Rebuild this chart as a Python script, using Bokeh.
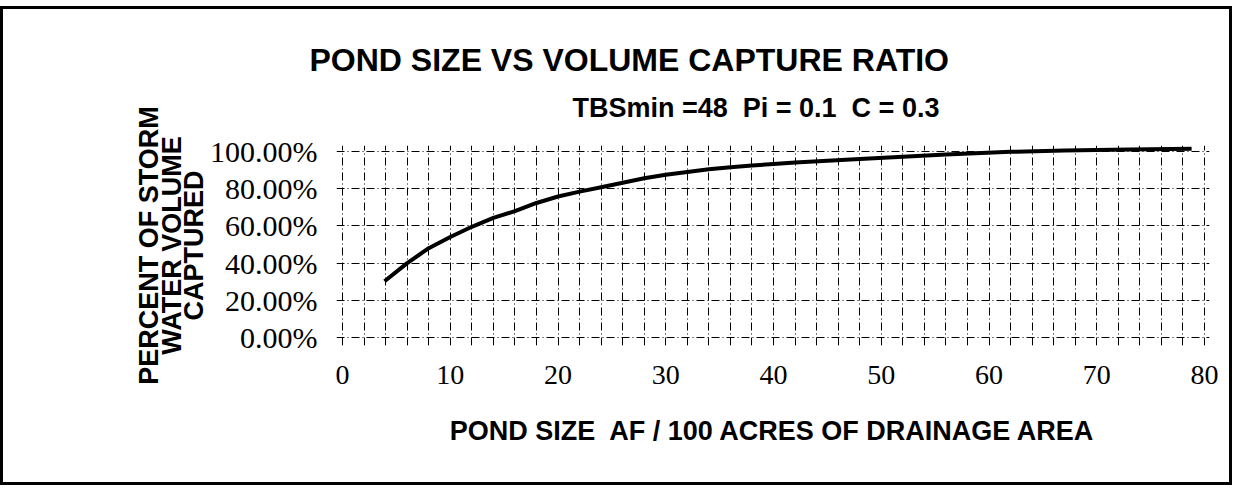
from bokeh.plotting import figure
from bokeh.models import Range1d, FixedTicker, PrintfTickFormatter, Title
from bokeh.embed import file_html
from bokeh.resources import INLINE

# ---- data ----
pond_size = [3.9, 6, 8, 10, 12, 14, 16, 18, 20, 22, 24, 26, 28, 30, 32, 34, 36, 38, 40, 42,
             48, 56, 62, 67, 73, 78.8]
capture_pct = [30.2, 40.0, 48.0, 54.0, 59.5, 64.3, 67.9, 72.3, 75.8, 78.4, 80.8, 83.2, 85.6,
               87.5, 89.0, 90.4, 91.5, 92.4, 93.3, 94.0, 96.0, 98.3, 99.8, 100.5, 101.0, 101.4]

x_tick_values = [0, 10, 20, 30, 40, 50, 60, 70, 80]
y_tick_values = [0, 20, 40, 60, 80, 100]
x_grid_values = [0, 2, 4, 6, 8, 10, 12, 14, 16, 18, 20, 22, 24, 26, 28, 30, 32, 34, 36, 38, 40,
                 42, 44, 46, 48, 50, 52, 54, 56, 58, 60, 62, 64, 66, 68, 70, 72, 74, 76, 78, 80]

title_text = "POND SIZE VS VOLUME CAPTURE RATIO"
subtitle_text = "TBSmin =48\u00a0 Pi = 0.1\u00a0 C = 0.3"
x_label = "POND SIZE\u00a0 AF / 100 ACRES OF DRAINAGE AREA"
y_label = "PERCENT OF STORM\nWATER VOLUME\nCAPTURED"

SANS = "Liberation Sans"
SERIF = "Liberation Serif"

p = figure(width=1232, height=479, output_backend="svg", toolbar_location=None,
           x_range=Range1d(-0.56, 80.46), y_range=Range1d(-4.3, 103.2),
           min_border_left=333, min_border_right=26, min_border_top=136,
           min_border_bottom=143)
p.margin = (6, 0, 0, 0)
p.styles = {"border": "3px solid black"}
p.outline_line_color = None
p.background_fill_color = "white"
p.border_fill_color = "white"

# titles
p.title.text = title_text
p.title.text_font = SANS
p.title.text_font_size = "32px"
p.title.text_font_style = "bold"
p.title.text_color = "black"
p.title.align = "left"
p.title.offset = -27
p.title.standoff = -20
p.add_layout(Title(text=subtitle_text, text_font=SANS, text_font_size="27px",
                   text_font_style="bold", text_color="black", align="left",
                   offset=236, standoff=46), "above")

# grids
p.xgrid.ticker = FixedTicker(ticks=x_grid_values)
p.ygrid.ticker = FixedTicker(ticks=y_tick_values)
for g in (p.xgrid, p.ygrid):
    g.grid_line_color = "black"
    g.grid_line_width = 1
    g.grid_line_dash = "8 3 1 3"

# axes
p.xaxis.ticker = FixedTicker(ticks=x_tick_values)
p.yaxis.ticker = FixedTicker(ticks=y_tick_values)
p.yaxis.formatter = PrintfTickFormatter(format="%.2f%%")
for ax in (p.xaxis, p.yaxis):
    ax.axis_line_color = None
    ax.major_tick_line_color = None
    ax.minor_tick_line_color = None
    ax.major_label_text_font = SERIF
    ax.major_label_text_color = "black"
    ax.axis_label_text_font = SANS
    ax.axis_label_text_font_style = "bold"
    ax.axis_label_text_color = "black"

p.xaxis.major_label_text_font_size = "28px"
p.xaxis.major_label_standoff = 14
p.xaxis.axis_label = x_label
p.xaxis.axis_label_text_font_size = "27px"
p.xaxis.axis_label_standoff = 29

p.yaxis.major_label_text_font_size = "30px"
p.yaxis.major_label_standoff = 13
p.yaxis.axis_label = y_label
p.yaxis.axis_label_text_font_size = "27px"
p.yaxis.axis_label_text_line_height = 0.75
p.yaxis.axis_label_standoff = -2

# curve
p.line(pond_size, capture_pct, line_width=4, line_color="black")

open("out.html", "w").write(file_html(p, INLINE))
